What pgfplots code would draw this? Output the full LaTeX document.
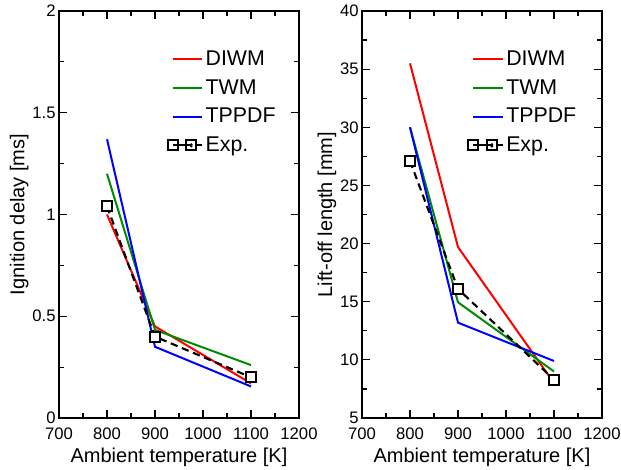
\documentclass[border=0pt]{standalone}
\usepackage{pgfplots}
\pgfplotsset{compat=1.18}
\usepackage{fontspec}
\setmainfont{Liberation Sans}
\definecolor{ggreen}{RGB}{0,140,0}
\pgfplotsset{
  myaxis/.style={
    scale only axis, width=180pt, height=305.25pt,
    anchor=south west,
    xmin=700, xmax=1200, xtick={700,800,...,1200},
    minor x tick num=1, minor y tick num=1,
    tick align=inside, tick pos=both,
    major tick length=6pt, minor tick length=3.5pt,
    every tick/.style={black, line width=0.9pt},
    axis line style={line width=1.1pt},
    /pgf/number format/assume math mode=true,
    /pgf/number format/1000 sep={},
    tick label style={font=\fontsize{12.5}{14}\selectfont},
    label style={font=\fontsize{15}{17}\selectfont},
    xlabel={Ambient temperature [K]},
    xticklabel style={yshift=-3.5pt},
    xlabel style={yshift=0pt},
    yticklabel style={xshift=1pt},
    legend style={draw=none, fill=none, font=\fontsize{16}{18}\selectfont,
      anchor=north west, row sep=5.1pt, inner xsep=0pt, inner ysep=0pt},
    legend cell align=left,
    legend image code/.code={
      \draw[line width=1.5pt, #1] (0pt,0pt) -- (14pt,0pt);
      \path (0pt,0pt) -- (22pt,0pt);
    },
  },
  model/.style={line width=1.5pt, no marks},
  expp/.style={black, line width=1.6pt, dash pattern=on 5.5pt off 3.5pt,
    mark=square*, mark size=3.7pt, mark options={solid, fill=white, line width=1.5pt},
    legend image code/.code={
      \draw[black, solid, line width=1.5pt] (0pt,0pt) -- (14pt,0pt);
      \draw[black, solid, line width=1.5pt, fill=white] (-3.7pt,-3.7pt) rectangle (3.7pt,3.7pt);
      \draw[black, solid, line width=1.5pt, fill=white] (10.3pt,-3.7pt) rectangle (17.7pt,3.7pt);
      \fill[black] (14pt,0pt) circle (0.6pt);
      \path (0pt,0pt) -- (22pt,0pt);
    }},
}
\begin{document}
\begin{tikzpicture}
\useasboundingbox (0,0) rectangle (465.75pt,352.5pt);
\begin{axis}[myaxis, at={(44.25pt,39pt)},
  ymin=0, ymax=2, ytick={0,0.5,1,1.5,2},
  yticklabels={0,0.5,1,1.5,2},
  ylabel={Ignition delay [ms]}, ylabel style={yshift=-4pt},
  legend style={at={(0.4475,0.91)}}]
\addplot[model, red] coordinates {(800,1.0) (900,0.45) (1100,0.17)};
\addlegendentry{DIWM}
\addplot[model, ggreen] coordinates {(800,1.20) (900,0.433) (1100,0.26)};
\addlegendentry{TWM}
\addplot[model, blue] coordinates {(800,1.37) (900,0.35) (1100,0.155)};
\addlegendentry{TPPDF}
\addplot[expp] coordinates {(800,1.04) (900,0.40) (1100,0.20)};
\addlegendentry{Exp.}
\end{axis}
\begin{axis}[myaxis, at={(271.5pt,39pt)},
  ymin=5, ymax=40, ytick={5,10,...,40},
  ylabel={Lift-off length [mm]}, ylabel style={yshift=-4pt},
  legend style={at={(0.4375,0.91)}}]
\addplot[model, red] coordinates {(800,35.5) (900,19.7) (1100,8.0)};
\addlegendentry{DIWM}
\addplot[model, ggreen] coordinates {(800,30.0) (900,14.95) (1100,9.0)};
\addlegendentry{TWM}
\addplot[model, blue] coordinates {(800,30.0) (900,13.2) (1100,9.9)};
\addlegendentry{TPPDF}
\addplot[expp] coordinates {(800,27.1) (900,16.1) (1100,8.3)};
\addlegendentry{Exp.}
\end{axis}
\end{tikzpicture}
\end{document}
